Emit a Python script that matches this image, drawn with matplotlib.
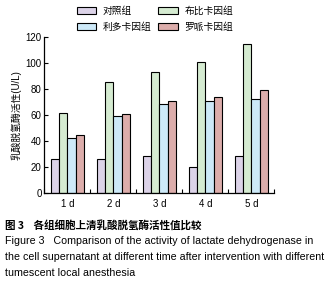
import numpy as np
import matplotlib
matplotlib.use("Agg")
import matplotlib.pyplot as plt

plt.rcParams['font.family'] = ['Liberation Sans', 'Noto Sans CJK SC', 'DejaVu Sans']

# data
days = ['1 d', '2 d', '3 d', '4 d', '5 d']
groups = ['对照组', '布比卡因组', '利多卡因组', '罗哌卡因组']
control = [26, 26, 28.4, 20.2, 28.5]
bupi = [61.5, 85.4, 93, 100.8, 114.6]
lido = [42.3, 59.2, 68.5, 70.8, 72.3]
ropi = [44.6, 60.8, 71, 74, 79.2]
colors = ['#dcd3e8', '#d5ebd1', '#cde9f8', '#dcadab']

fig = plt.figure(figsize=(3.31, 2.88), dpi=100)
ax = fig.add_axes([0.134, 0.329, 0.695, 0.544])

x = np.arange(len(days))
w = 0.18
series = [control, bupi, lido, ropi]
handles = []
for i, vals in enumerate(series):
    b = ax.bar(x + (i - 1.5) * w, vals, w, color=colors[i], edgecolor='black',
               linewidth=0.8, label=groups[i])
    handles.append(b)

ax.set_xlim(-0.5, 4.5)
ax.set_ylim(0, 120)
ax.set_yticks(range(0, 121, 20))
ax.set_xticks(x)
ax.set_xticklabels(days)
ax.set_xticks(np.arange(-0.5, 5, 1), minor=True)
ax.tick_params(axis='x', which='major', length=0, labelsize=7, pad=4)
ax.tick_params(axis='x', which='minor', direction='in', length=3, width=0.8)
ax.tick_params(axis='y', direction='in', length=3, width=0.8, labelsize=7, pad=2)
for s in ['top', 'right']:
    ax.spines[s].set_visible(False)
for s in ['left', 'bottom']:
    ax.spines[s].set_linewidth(0.9)
ax.set_ylabel('乳酸脱氢酶活性(U/L)', fontsize=7, labelpad=3)

# column-wise fill: control / lido, then bupi / ropi
order = [0, 2, 1, 3]
fig.legend(handles=[handles[i] for i in order], labels=[groups[i] for i in order],
           loc='upper left', ncol=2, bbox_to_anchor=(0.205, 1.01), frameon=False,
           fontsize=7, handlelength=2.0, handleheight=0.8, columnspacing=0.7,
           handletextpad=0.7, labelspacing=0.62)

fig.text(0.015, 1 - 225 / 288, '图 3    各组细胞上清乳酸脱氢酶活性值比较', fontsize=7.6,
         fontweight='bold', va='center', family=['Noto Sans CJK SC', 'DejaVu Sans'])
cap = ['Figure 3   Comparison of the activity of lactate dehydrogenase in',
       'the cell supernatant at different time after intervention with different',
       'tumescent local anesthesia']
for k, line in enumerate(cap):
    fig.text(0.015, 1 - (241 + 16 * k) / 288, line, fontsize=7.65, va='center')

fig.savefig('out.png', dpi=100)
